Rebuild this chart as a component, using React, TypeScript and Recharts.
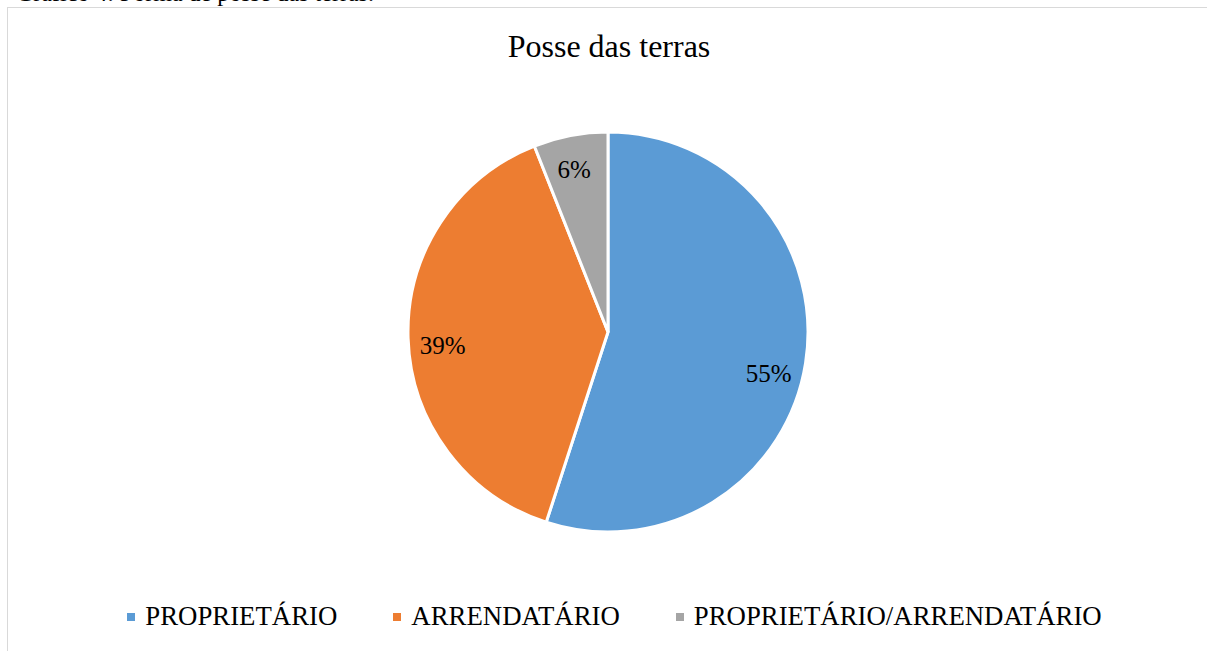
import React from "react";
import { PieChart, Pie, Cell, Legend } from "recharts";

const categories = ["PROPRIETÁRIO", "ARRENDATÁRIO", "PROPRIETÁRIO/ARRENDATÁRIO"];
const shares = [55, 39, 6];
const sliceColors = ["#5b9bd5", "#ed7d31", "#a5a5a5"];

const data = categories.map((name, i) => ({ name, value: shares[i] }));

const RADIAN = Math.PI / 180;
const FONT = '"Liberation Serif", "Times New Roman", serif';

// Excel "best fit" nudges the labels a little off the mid angle
const labelAngleShift = [-5.5, 3, 1];

const renderLabel = (props: any) => {
  const { cx, cy, midAngle, outerRadius, value, index } = props;
  const r = outerRadius * 0.83;
  const a = (midAngle + (labelAngleShift[index] || 0)) * RADIAN;
  const x = cx + r * Math.cos(-a);
  const y = cy + r * Math.sin(-a);
  return (
    <text
      key={`lbl-${index}`}
      className="pie-lbl"
      x={x}
      y={y}
      fill="#000"
      textAnchor="middle"
      dominantBaseline="central"
    >
      {`${value}%`}
    </text>
  );
};

const LegendContent = () => (
  <div style={{ display: "flex", justifyContent: "center", alignItems: "center" }}>
    {categories.map((name, i) => (
      <div
        key={name}
        style={{ display: "flex", alignItems: "center", marginLeft: i === 0 ? 0 : 56 }}
      >
        <span
          style={{
            width: 8,
            height: 8,
            background: sliceColors[i],
            display: "inline-block",
            marginRight: 10,
          }}
        />
        <span style={{ fontFamily: FONT, fontSize: 26.8, color: "#000" }}>{name}</span>
      </div>
    ))}
  </div>
);

export default function App() {
  return (
    <div
      style={{
        position: "absolute",
        left: 0,
        top: 0,
        width: 1207,
        height: 651,
        overflow: "hidden",
        background: "#fff",
        fontFamily: FONT,
      }}
    >
      <style>{`.recharts-wrapper text, text.pie-lbl { font-family: "Liberation Serif", serif !important; font-size: 25px !important; }`}</style>
      <div
        style={{
          position: "absolute",
          left: 16,
          top: -21,
          fontSize: 24,
          lineHeight: "28px",
          color: "#000",
          whiteSpace: "nowrap",
        }}
      >
        Gráfico 4: Forma de posse das terras.
      </div>
      <div
        style={{
          position: "absolute",
          left: 7,
          top: 7,
          width: 1220,
          height: 680,
          border: "1.5px solid #d9d9d9",
          boxSizing: "border-box",
        }}
      />
      <div
        style={{
          position: "absolute",
          left: 0,
          top: 28,
          width: 1218,
          textAlign: "center",
          fontSize: 32,
          color: "#000",
        }}
      >
        Posse das terras
      </div>
      <div style={{ position: "absolute", left: 0, top: 0 }}>
        <PieChart
          width={1207}
          height={651}
          margin={{ top: 0, right: 0, bottom: 0, left: 0 }}
          style={{ fontFamily: FONT }}
        >
          <Pie
            data={data}
            dataKey="value"
            nameKey="name"
            cx={608}
            cy={332}
            outerRadius={200}
            startAngle={90}
            endAngle={-270}
            stroke="#fff"
            strokeWidth={3}
            label={renderLabel}
            labelLine={false}
            isAnimationActive={false}
          >
            {data.map((d, i) => (
              <Cell key={d.name} fill={sliceColors[i]} />
            ))}
          </Pie>
          <Legend
            content={<LegendContent />}
            layout="horizontal"
            verticalAlign="bottom"
            wrapperStyle={{ position: "absolute", left: 0, top: 601, width: 1229 }}
          />
        </PieChart>
      </div>
    </div>
  );
}
